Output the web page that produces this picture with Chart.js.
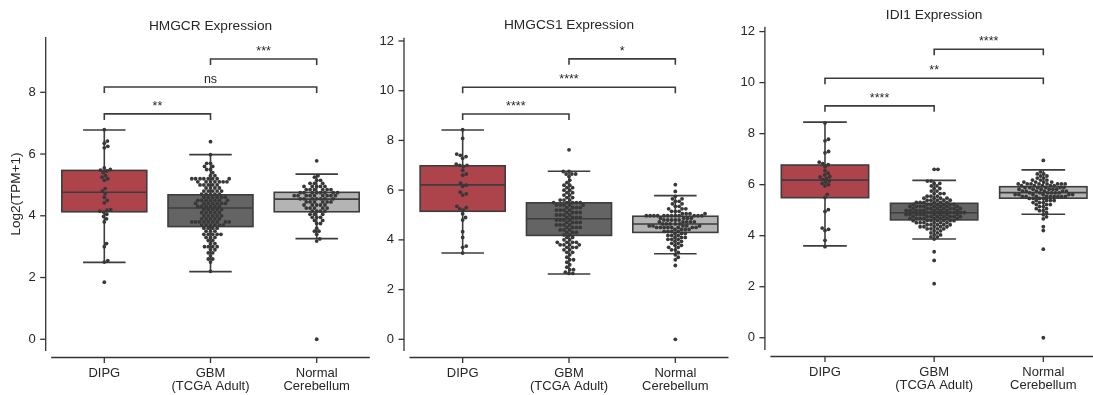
<!DOCTYPE html>
<html>
<head>
<meta charset="utf-8">
<script src="https://cdn.jsdelivr.net/npm/chart.js@4.4.1/dist/chart.umd.min.js"></script>
<style>
  html, body { margin: 0; padding: 0; background: #fff; overflow: hidden; }
  body { width: 1093px; height: 395px; position: relative; }
  canvas { position: absolute; top: 0; }
</style>
</head>
<body>
<canvas id="c1" width="375" height="395" style="left:0px"></canvas>
<canvas id="c2" width="360" height="395" style="left:375px"></canvas>
<canvas id="c3" width="370" height="395" style="left:735px"></canvas>
<script>
// --- categories / labels ---
const groups = [["DIPG"], ["GBM", "(TCGA Adult)"], ["Normal", "Cerebellum"]];
const titles = ["HMGCR Expression", "HMGCS1 Expression", "IDI1 Expression"];
const yTicks1 = [0, 2, 4, 6, 8];
const yTicks2 = [0, 2, 4, 6, 8, 10, 12];
const yTicks3 = [0, 2, 4, 6, 8, 10, 12];

// --- box statistics (DIPG, GBM, Normal) ---
const hmgcrQ1 = [4.13, 3.65, 4.13], hmgcrMed = [4.76, 4.25, 4.54], hmgcrQ3 = [5.47, 4.68, 4.76];
const hmgcrLo = [2.49, 2.19, 3.26], hmgcrHi = [6.78, 5.98, 5.35];
const hmgcs1Q1 = [5.15, 4.18, 4.30], hmgcs1Med = [6.21, 4.85, 4.64], hmgcs1Q3 = [6.98, 5.49, 4.95];
const hmgcs1Lo = [3.47, 2.63, 3.44], hmgcs1Hi = [8.42, 6.76, 5.78];
const idi1Q1 = [5.49, 4.62, 5.47], idi1Med = [6.18, 4.90, 5.69], idi1Q3 = [6.77, 5.27, 5.92];
const idi1Lo = [3.60, 3.87, 4.84], idi1Hi = [8.45, 6.17, 6.58];

// --- significance brackets ---
const bracketPairs = [[0, 1], [0, 2], [1, 2]];
const hmgcrBracketY = [7.30, 8.17, 9.08], hmgcrBracketText = ["**", "ns", "***"];
const hmgcs1BracketY = [9.06, 10.14, 11.28], hmgcs1BracketText = ["****", "****", "*"];
const idi1BracketY = [9.09, 10.17, 11.31], idi1BracketText = ["****", "**", "****"];

// --- sample values (single value or [value, count]) ---
const hmgcrDipg = [6.79, 6.42, 6.35, 6.25, 6.2, 5.55, 5.5, 5.48, 5.45, 5.4, 5.3, 5.25, 5.2, 5.15, 4.88, 4.8,
  4.72, 4.6, 4.5, 4.42, 4.2, 4.18, 4.15, 4.12, 4.05, 3.98, 3.9, 3.8, 3.1, 3.0, 2.55, 2.5, 1.85];
const hmgcrGbm = [[6.4, 1], [5.98, 1], [5.7, 2], [5.6, 2], [5.5, 2], [5.4, 1], [5.3, 2], [5.2, 8], [5.1, 7],
  [5.0, 5], [4.9, 4], [4.8, 5], [4.7, 5], [4.6, 6], [4.5, 7], [4.4, 7], [4.3, 6], [4.2, 5], [4.1, 5], [4.0, 5],
  [3.9, 5], [3.8, 9], [3.7, 6], [3.6, 4], [3.5, 3], [3.4, 5], [3.3, 3], [3.2, 2], [3.1, 2], [3.0, 4], [2.9, 2],
  [2.8, 2], [2.7, 1], [2.6, 2], [2.5, 1], [2.2, 1]];
const hmgcrNormal = [[5.78, 1], [5.3, 1], [5.25, 1], [5.15, 2], [5.05, 3], [4.95, 5], [4.85, 6], [4.75, 8],
  [4.65, 9], [4.55, 7], [4.45, 6], [4.35, 5], [4.25, 5], [4.15, 4], [4.05, 3], [3.95, 3], [3.85, 2], [3.75, 2],
  [3.6, 1], [3.5, 2], [3.4, 1], [3.25, 1], [3.18, 1], [0, 1]];

const hmgcs1Dipg = [8.43, 8.08, 7.45, 7.4, 7.35, 7.28, 7.05, 7.0, 7.0, 6.95, 6.8, 6.65, 6.6, 6.28, 6.2, 6.15,
  5.92, 5.85, 5.8, 5.35, 5.3, 5.25, 5.2, 5.05, 4.9, 4.8, 4.33, 4.1, 3.75, 3.7, 3.47];
const hmgcs1Gbm = [[7.62, 1], [6.75, 2], [6.65, 3], [6.55, 1], [6.4, 1], [6.3, 1], [6.2, 2], [6.1, 2], [6.0, 2],
  [5.9, 2], [5.8, 2], [5.7, 2], [5.6, 3], [5.5, 5], [5.4, 5], [5.3, 4], [5.2, 4], [5.1, 4], [5.0, 4], [4.9, 4],
  [4.8, 4], [4.7, 4], [4.6, 4], [4.5, 4], [4.4, 3], [4.3, 3], [4.2, 2], [4.1, 2], [4.0, 2], [3.9, 4], [3.8, 4],
  [3.7, 3], [3.6, 2], [3.5, 2], [3.4, 1], [3.3, 1], [3.2, 2], [3.1, 1], [3.0, 1], [2.9, 1], [2.8, 2], [2.7, 1],
  [2.65, 2]];
const hmgcs1Normal = [[6.22, 1], [5.95, 1], [5.75, 1], [5.65, 2], [5.55, 2], [5.45, 2], [5.35, 2], [5.25, 3],
  [5.15, 3], [5.05, 4], [4.97, 12], [4.87, 4], [4.8, 5], [4.72, 5], [4.64, 5], [4.56, 5], [4.5, 8], [4.42, 4],
  [4.34, 4], [4.26, 3], [4.18, 3], [4.1, 3], [4.02, 3], [3.94, 2], [3.86, 2], [3.78, 2], [3.7, 2], [3.6, 2],
  [3.5, 1], [3.4, 1], [3.3, 1], [3.2, 1], [2.97, 1], [0, 1]];

const idi1Dipg = [8.42, 7.78, 7.72, 7.3, 7.25, 6.88, 6.82, 6.78, 6.7, 6.55, 6.45, 6.38, 6.32, 6.3, 6.25, 6.2,
  6.15, 6.1, 6.05, 6.0, 5.95, 5.62, 5.5, 5.02, 4.95, 4.3, 4.25, 4.2, 3.82, 3.57];
const idi1Gbm = [[6.6, 2], [6.14, 2], [6.05, 2], [5.95, 2], [5.85, 2], [5.75, 2], [5.65, 3], [5.55, 3], [5.47, 4],
  [5.39, 5], [5.31, 6], [5.23, 7], [5.15, 8], [5.07, 8], [4.99, 9], [4.91, 9], [4.83, 9], [4.75, 8], [4.67, 8],
  [4.59, 7], [4.51, 6], [4.43, 5], [4.35, 5], [4.27, 4], [4.19, 2], [4.11, 2], [4.03, 2], [3.95, 2], [3.87, 1],
  [3.37, 1], [3.03, 1], [2.12, 1]];
const idi1Normal = [[6.95, 1], [6.5, 1], [6.42, 2], [6.34, 2], [6.26, 2], [6.18, 3], [6.1, 4], [6.03, 8],
  [5.96, 5], [5.89, 6], [5.82, 6], [5.75, 6], [5.68, 6], [5.61, 6], [5.54, 9], [5.46, 4], [5.38, 4], [5.3, 3],
  [5.22, 3], [5.14, 2], [5.06, 2], [4.98, 2], [4.9, 1], [4.82, 1], [4.74, 1], [4.66, 1], [4.35, 1], [4.2, 1],
  [3.47, 1], [0, 1]];

const FONT = "'Liberation Sans', Arial, sans-serif";
const TEXT = "#262626";
const LINE = "#3d3d3d";
const boxColors = ["#ad444b", "#646464", "#b4b4b4"];
const DOT = 3.8; // swarm point spacing (px)

function expand(list) {
  const out = [];
  list.forEach((e) => {
    if (typeof e === "number") out.push(e);
    else for (let k = 0; k < e[1]; k++) out.push(e[0]);
  });
  return out;
}

// beeswarm: place each point as close to the centre as possible without overlap
function swarm(pixY, d) {
  const order = pixY.map((y, i) => i).sort((a, b) => pixY[b] - pixY[a]);
  const placed = [];
  const out = new Array(pixY.length);
  order.forEach((i) => {
    const y = pixY[i];
    const near = placed.filter((p) => Math.abs(p.y - y) < d);
    const cands = [0];
    near.forEach((p) => {
      const dx = Math.sqrt(d * d - (p.y - y) * (p.y - y));
      cands.push(p.x + dx, p.x - dx);
    });
    cands.sort((a, b) => Math.abs(a) - Math.abs(b));
    let x = 0;
    for (const c of cands) {
      if (near.every((p) => (p.x - c) ** 2 + (p.y - y) ** 2 >= d * d - 1e-6)) { x = c; break; }
    }
    placed.push({ x, y });
    out[i] = x;
  });
  return out;
}

function line(ctx, x1, y1, x2, y2) {
  ctx.beginPath();
  ctx.moveTo(x1, y1);
  ctx.lineTo(x2, y2);
  ctx.stroke();
}

// boxes, brackets and offset spines
const boxPlotPlugin = {
  id: "boxPlot",
  beforeDatasetsDraw(chart) {
    const p = chart.options.plugins.boxPlot;
    const { ctx } = chart;
    const xs = chart.scales.x, ys = chart.scales.y;
    ctx.save();
    ctx.strokeStyle = LINE;
    ctx.lineWidth = 1.6;
    for (let i = 0; i < 3; i++) {
      const xc = xs.getPixelForValue(i);
      const xl = xs.getPixelForValue(i - 0.4), xr = xs.getPixelForValue(i + 0.4);
      const cl = xs.getPixelForValue(i - 0.2), cr = xs.getPixelForValue(i + 0.2);
      const y1 = ys.getPixelForValue(p.q1[i]), y3 = ys.getPixelForValue(p.q3[i]);
      const ym = ys.getPixelForValue(p.med[i]);
      const yl = ys.getPixelForValue(p.lo[i]), yh = ys.getPixelForValue(p.hi[i]);
      line(ctx, xc, y3, xc, yh);
      line(ctx, xc, y1, xc, yl);
      line(ctx, cl, yh, cr, yh);
      line(ctx, cl, yl, cr, yl);
      ctx.fillStyle = boxColors[i];
      ctx.fillRect(xl, y3, xr - xl, y1 - y3);
      ctx.strokeRect(xl, y3, xr - xl, y1 - y3);
      line(ctx, xl, ym, xr, ym);
    }
    ctx.restore();
  },
  afterDatasetsDraw(chart) {
    const p = chart.options.plugins.boxPlot;
    const { ctx } = chart;
    const xs = chart.scales.x, ys = chart.scales.y;
    ctx.save();
    ctx.strokeStyle = LINE;
    ctx.lineWidth = 1.6;
    ctx.fillStyle = TEXT;
    ctx.font = "12.5px " + FONT;
    ctx.textAlign = "center";
    ctx.textBaseline = "bottom";
    bracketPairs.forEach(([a, b], k) => {
      const y = ys.getPixelForValue(p.bracketY[k]);
      const xa = xs.getPixelForValue(a), xb = xs.getPixelForValue(b);
      ctx.beginPath();
      ctx.moveTo(xa, y + 6);
      ctx.lineTo(xa, y);
      ctx.lineTo(xb, y);
      ctx.lineTo(xb, y + 6);
      ctx.stroke();
      ctx.fillText(p.bracketText[k], (xa + xb) / 2, y - 1.5);
    });
    ctx.restore();
  },
  afterDraw(chart) {
    const { ctx, chartArea: ca } = chart;
    const xs = chart.scales.x, ys = chart.scales.y;
    ctx.save();
    ctx.strokeStyle = "#333";
    ctx.lineWidth = 1.3;
    const sx = ca.left - 5.5;
    line(ctx, sx, ca.top, sx, ca.bottom);
    ys.ticks.forEach((t) => {
      const y = ys.getPixelForValue(t.value);
      line(ctx, sx - 5.5, y, sx, y);
    });
    const sy = ca.bottom + 6.5;
    line(ctx, ca.left, sy, ca.right, sy);
    xs.ticks.forEach((t) => {
      const x = xs.getPixelForValue(t.value);
      line(ctx, x, sy, x, sy + 5.5);
    });
    ctx.restore();
  },
};

function makePanel(id, cfg) {
  const chart = new Chart(document.getElementById(id), {
    type: "scatter",
    data: {
      datasets: [{
        data: [],
        pointRadius: 1.9,
        pointHoverRadius: 1.9,
        pointBackgroundColor: "#383838",
        pointBorderWidth: 0,
      }],
    },
    options: {
      responsive: false,
      animation: false,
      events: [],
      layout: { padding: { right: cfg.padRight } },
      plugins: {
        legend: { display: false },
        tooltip: { enabled: false },
        title: {
          display: true,
          text: cfg.title,
          fullSize: false,
          color: TEXT,
          font: { family: FONT, size: 13.7, weight: "normal", lineHeight: 1.2 },
          padding: { top: cfg.titleTop, bottom: cfg.titleBottom },
        },
        boxPlot: cfg.box,
      },
      scales: {
        x: {
          type: "linear",
          min: -0.5,
          max: 2.5,
          afterBuildTicks: (s) => { s.ticks = groups.map((g, i) => ({ value: i })); },
          afterFit: (s) => { s.height = cfg.xHeight; },
          ticks: {
            callback: (v, i) => groups[i],
            padding: 15.5,
            maxRotation: 0,
            color: TEXT,
            font: { family: FONT, size: 13, lineHeight: 1.0 },
          },
          grid: { display: false, drawTicks: false },
          border: { display: false },
        },
        y: {
          min: cfg.yMin,
          max: cfg.yMax,
          afterBuildTicks: (s) => { s.ticks = cfg.yTicks.map((v) => ({ value: v })); },
          afterFit: (s) => { s.width = cfg.yWidth; },
          ticks: { padding: 15.5, color: TEXT, font: { family: FONT, size: 13 } },
          grid: { display: false, drawTicks: false },
          border: { display: false },
          title: {
            display: !!cfg.yTitle,
            text: cfg.yTitle || "",
            color: TEXT,
            font: { family: FONT, size: 13.5, lineHeight: 1.2 },
            padding: { top: 7.9, bottom: 0 },
          },
        },
      },
    },
    plugins: [boxPlotPlugin],
  });

  // second pass: lay out the swarm with the real pixel scales
  const xs = chart.scales.x, ys = chart.scales.y;
  const unit = xs.getPixelForValue(1) - xs.getPixelForValue(0);
  const pts = [];
  cfg.samples.forEach((list, gi) => {
    const vals = expand(list);
    const dx = swarm(vals.map((v) => ys.getPixelForValue(v)), DOT);
    vals.forEach((v, k) => pts.push({ x: gi + dx[k] / unit, y: v }));
  });
  chart.data.datasets[0].data = pts;
  chart.update("none");
}

makePanel("c1", {
  title: titles[0], titleTop: 17.8, titleBottom: 2.8, padRight: 5.2,
  yWidth: 51.2, xHeight: 44, yMin: -0.38, yMax: 9.79, yTicks: yTicks1, yTitle: "Log2(TPM+1)",
  samples: [hmgcrDipg, hmgcrGbm, hmgcrNormal],
  box: { q1: hmgcrQ1, med: hmgcrMed, q3: hmgcrQ3, lo: hmgcrLo, hi: hmgcrHi,
    bracketY: hmgcrBracketY, bracketText: hmgcrBracketText },
});
makePanel("c2", {
  title: titles[1], titleTop: 17.5, titleBottom: 3.8, padRight: 6.5,
  yWidth: 34.5, xHeight: 44, yMin: -0.47, yMax: 12.13, yTicks: yTicks2,
  samples: [hmgcs1Dipg, hmgcs1Gbm, hmgcs1Normal],
  box: { q1: hmgcs1Q1, med: hmgcs1Med, q3: hmgcs1Q3, lo: hmgcs1Lo, hi: hmgcs1Hi,
    bracketY: hmgcs1BracketY, bracketText: hmgcs1BracketText },
});
makePanel("c3", {
  title: titles[2], titleTop: 6.8, titleBottom: 3.5, padRight: 7.1,
  yWidth: 35.4, xHeight: 45, yMin: -0.48, yMax: 12.19, yTicks: yTicks3,
  samples: [idi1Dipg, idi1Gbm, idi1Normal],
  box: { q1: idi1Q1, med: idi1Med, q3: idi1Q3, lo: idi1Lo, hi: idi1Hi,
    bracketY: idi1BracketY, bracketText: idi1BracketText },
});
</script>
</body>
</html>
